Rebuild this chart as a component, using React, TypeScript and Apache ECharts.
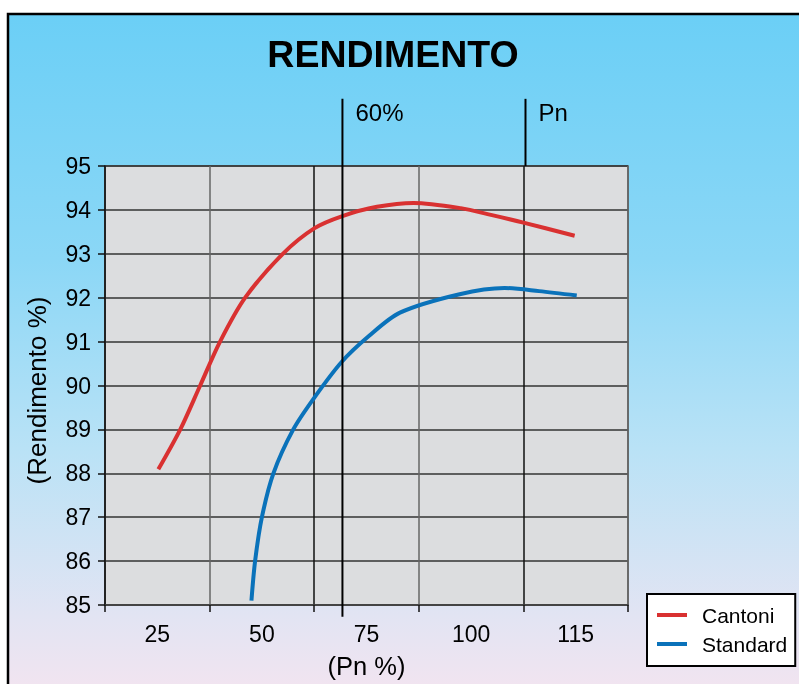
import React, { useEffect, useRef } from "react";
import * as echarts from "echarts";

// Category tick labels (Pn %)
const categories = ["25", "50", "75", "100", "115"];

// Curves: x in category-slot units (0 = left edge of plot, 5 = right edge), y = efficiency %
const cantoniX = [0.51, 0.72, 0.91, 1.1, 1.34, 1.7, 2.0, 2.27, 2.6, 2.95, 3.4, 3.7, 4.0, 4.49];
const cantoniY = [88.09, 89.0, 90.0, 91.0, 92.0, 93.0, 93.58, 93.86, 94.07, 94.16, 94.04, 93.88, 93.71, 93.41];

const standardX = [1.4, 1.435, 1.5, 1.61, 1.8, 2.0, 2.26, 2.52, 2.82, 3.39, 3.82, 4.15, 4.51];
const standardY = [85.1, 86.0, 87.0, 88.0, 89.0, 89.72, 90.53, 91.12, 91.66, 92.08, 92.22, 92.15, 92.05];

const seriesNames = ["Cantoni", "Standard"];
const seriesColors = ["#D93131", "#0A72BA"];

// Reference markers (x in slot units) and their labels
const markers = [
  { x: 2.27, label: "60%", extendBelow: true },
  { x: 4.02, label: "Pn", extendBelow: false },
];

const FONT = "'Liberation Sans', Arial, Helvetica, sans-serif";

export default function App() {
  const ref = useRef<HTMLDivElement>(null);

  useEffect(() => {
    if (!ref.current) return;
    const chart = echarts.init(ref.current, null, { renderer: "svg" });

    const cantoni = cantoniX.map((x, i) => [x, cantoniY[i]]);
    const standard = standardX.map((x, i) => [x, standardY[i]]);

    chart.setOption({
      animation: false,
      textStyle: { fontFamily: FONT },
      grid: {
        left: 105,
        top: 166,
        width: 523,
        height: 439,
        show: true,
        backgroundColor: "#DCDDDF",
        borderColor: "#555",
        borderWidth: 1.5,
      },
      xAxis: [
        {
          type: "category",
          data: categories,
          boundaryGap: true,
          axisLine: { show: true, lineStyle: { color: "#444", width: 1.5 } },
          axisTick: { show: true, length: 7, lineStyle: { color: "#111", width: 1.5 } },
          axisLabel: { fontSize: 23, color: "#000", margin: 17, fontFamily: FONT },
          splitLine: {
            show: true,
            lineStyle: { color: ["#111", "#666", "#111", "#666", "#111", "#666"], width: 1.5 },
          },
          name: "(Pn %)",
          nameLocation: "middle",
          nameGap: 48,
          nameTextStyle: { fontSize: 25.5, color: "#000", fontFamily: FONT },
        },
        { type: "value", min: 0, max: 5, show: false },
      ],
      yAxis: {
        type: "value",
        min: 85,
        max: 95,
        interval: 1,
        axisLine: { show: true, lineStyle: { color: "#222", width: 1.5 } },
        axisTick: { show: true, length: 7, lineStyle: { color: "#111", width: 1.5 } },
        axisLabel: { fontSize: 23, color: "#000", margin: 14, fontFamily: FONT },
        splitLine: { show: true, lineStyle: { color: "#333", width: 1.5 } },
        name: "(Rendimento %)",
        nameLocation: "middle",
        nameRotate: 90,
        nameGap: 55,
        nameTextStyle: { fontSize: 26, color: "#000", fontFamily: FONT, padding: [0, 10, 0, 0] },
      },
      legend: {
        data: seriesNames,
        orient: "vertical",
        left: 647,
        top: 594,
        padding: [10, 8, 11, 10],
        itemGap: 7,
        itemWidth: 30,
        itemHeight: 4,
        icon: "rect",
        backgroundColor: "#fff",
        borderColor: "#000",
        borderWidth: 2,
        textStyle: { fontSize: 21, color: "#000", fontFamily: FONT, padding: [0, 0, 0, 10], lineHeight: 22 },
      },
      series: [
        {
          name: seriesNames[0],
          type: "line",
          xAxisIndex: 1,
          data: cantoni,
          smooth: 0.3,
          symbol: "none",
          lineStyle: { color: seriesColors[0], width: 4 },
          itemStyle: { color: seriesColors[0] },
          z: 5,
        },
        {
          name: seriesNames[1],
          type: "line",
          xAxisIndex: 1,
          data: standard,
          smooth: 0.3,
          symbol: "none",
          lineStyle: { color: seriesColors[1], width: 4 },
          itemStyle: { color: seriesColors[1] },
          z: 5,
        },
      ],
    });

    const topY = chart.convertToPixel({ yAxisIndex: 0 }, 96.53) as number;
    const plotTop = chart.convertToPixel({ yAxisIndex: 0 }, 95) as number;
    const botY = chart.convertToPixel({ yAxisIndex: 0 }, 84.73) as number;
    const labelY = chart.convertToPixel({ yAxisIndex: 0 }, 96.21) as number;

    const graphics: any[] = [
      {
        type: "rect",
        z: -100,
        silent: true,
        shape: { x: 8, y: 14, width: 820, height: 700 },
        style: {
          fill: new echarts.graphic.LinearGradient(0, 0, 0, 1, [
            { offset: 0, color: "#6BCFF6" },
            { offset: 0.35, color: "#8BD7F6" },
            { offset: 0.62, color: "#B9E2F6" },
            { offset: 0.86, color: "#E2E4F3" },
            { offset: 1, color: "#F7E4EF" },
          ]),
          stroke: "#000",
          lineWidth: 2.5,
        },
      },
      {
        type: "text",
        x: 393,
        y: 54,
        z: 10,
        style: {
          text: "RENDIMENTO",
          fontSize: 37.5,
          fontWeight: "bold",
          fontFamily: FONT,
          fill: "#000",
          align: "center",
          verticalAlign: "middle",
        },
      },
    ];

    markers.forEach((m) => {
      const px = chart.convertToPixel({ xAxisIndex: 1 }, m.x) as number;
      graphics.push({
        type: "line",
        z: 20,
        silent: true,
        shape: { x1: px, y1: topY, x2: px, y2: m.extendBelow ? botY : plotTop },
        style: { stroke: "#000", lineWidth: 2 },
      });
      graphics.push({
        type: "text",
        x: px + 13,
        y: labelY,
        z: 20,
        style: {
          text: m.label,
          fontSize: 24,
          fontFamily: FONT,
          fill: "#000",
          align: "left",
          verticalAlign: "middle",
        },
      });
    });

    chart.setOption({ graphic: graphics });

    return () => chart.dispose();
  }, []);

  return (
    <div
      ref={ref}
      style={{ position: "fixed", left: 0, top: 0, width: 799, height: 684 }}
    />
  );
}
